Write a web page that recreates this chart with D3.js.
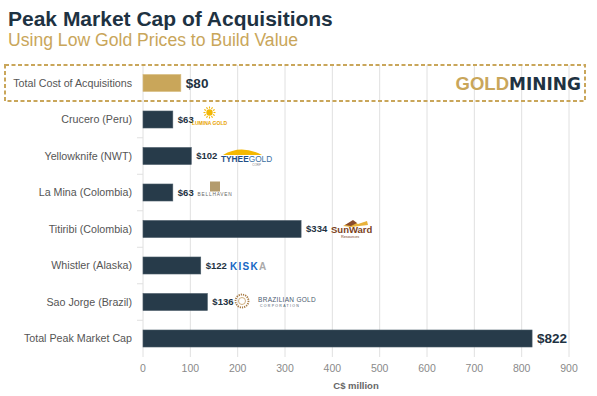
<!DOCTYPE html>
<html><head><meta charset="utf-8">
<script src="https://cdn.jsdelivr.net/npm/d3@7"></script>
<style>body{margin:0;background:#fff;}svg{display:block;font-family:"Liberation Sans",Arial,sans-serif;}</style>
</head><body><svg id="c" width="597" height="396"></svg>
<script>
const categories = ["Total Cost of Acquisitions","Crucero (Peru)","Yellowknife (NWT)","La Mina (Colombia)","Titiribi (Colombia)","Whistler (Alaska)","Sao Jorge (Brazil)","Total Peak Market Cap"];
const values = [80, 63, 102, 63, 334, 122, 136, 822];
const xTicks = [0,100,200,300,400,500,600,700,800,900];
const title = "Peak Market Cap of Acquisitions";
const subtitle = "Using Low Gold Prices to Build Value";
const axisTitle = "C$ million";

const svg = d3.select("#c");
const gold = "#c9a65a", navy = "#273b4a";
const x = d3.scaleLinear().domain([0,900]).range([143,569]);
const y = d3.scaleBand().domain(categories).range([64.75,356.75]).paddingInner(0.534).paddingOuter(0.267);

svg.append("text").attr("x",8).attr("y",26).attr("font-size",21).attr("font-weight","bold").attr("fill","#1e3242").text(title);
svg.append("text").attr("x",8).attr("y",46).attr("font-size",17.6).attr("fill",gold).text(subtitle);

// grid
svg.append("g").selectAll("line").data(xTicks).join("line")
  .attr("x1",d=>x(d)).attr("x2",d=>x(d)).attr("y1",65).attr("y2",357)
  .attr("stroke","#e0e0e0").attr("stroke-width",1);
// category separator ticks
svg.append("g").selectAll("line").data(categories.slice(1)).join("line")
  .attr("x1",137).attr("x2",143).attr("y1",d=>y(d)-y.step()*0.267).attr("y2",d=>y(d)-y.step()*0.267)
  .attr("stroke","#e0e0e0");

// dashed box
svg.append("rect").attr("x",5).attr("y",65).attr("width",580).attr("height",36)
  .attr("fill","none").attr("stroke",gold).attr("stroke-width",2).attr("stroke-dasharray","4,2.5");

// bars
svg.append("g").selectAll("rect").data(categories).join("rect")
  .attr("x",x(0)).attr("y",d=>y(d)).attr("height",y.bandwidth())
  .attr("width",(d,i)=>x(values[i])-x(0))
  .attr("fill",(d,i)=>i===0?gold:navy).attr("stroke",(d,i)=>i===0?"#d8bd7f":"#4a5b68").attr("stroke-width",0.6);

// category labels
svg.append("g").selectAll("text").data(categories).join("text")
  .attr("x",132).attr("y",d=>y(d)+y.bandwidth()/2).attr("dy","0.35em").attr("text-anchor","end")
  .attr("font-size",10.7).attr("fill","#555").text(d=>d);

// value labels
svg.append("g").selectAll("text").data(categories).join("text")
  .attr("x",(d,i)=>x(values[i])+5).attr("y",d=>y(d)+y.bandwidth()/2).attr("dy","0.36em")
  .attr("font-size",(d,i)=>(i===0||i===7)?13.5:9.5).attr("font-weight","bold").attr("fill","#1e3242")
  .text((d,i)=>"$"+values[i]);

// x axis labels
svg.append("g").selectAll("text").data(xTicks).join("text")
  .attr("x",d=>x(d)).attr("y",372).attr("text-anchor","middle").attr("font-size",10.5).attr("fill","#8a8a8a").text(d=>d);
svg.append("text").attr("x",356).attr("y",389).attr("text-anchor","middle").attr("font-size",9.5).attr("font-weight","bold").attr("fill","#666").text(axisTitle);

// GOLDMINING logo
const lg = svg.append("text").attr("x",581).attr("y",90).attr("text-anchor","end").attr("font-size",18.5).attr("font-weight","bold");
lg.append("tspan").attr("fill",gold).text("GOLD");
lg.append("tspan").attr("fill","#1e3242").attr("font-family","'DejaVu Sans',sans-serif").attr("font-size",17).text("MINING");

// company logos (approximations)
const cy = c => y(c)+y.bandwidth()/2;
// Lumina Gold
let g = svg.append("g").attr("transform",`translate(209.5,${cy(categories[1])-7})`);
g.append("circle").attr("r",3.2).attr("fill","#f2b705");
g.selectAll("line").data(d3.range(12)).join("line")
  .attr("x1",d=>4*Math.cos(d*Math.PI/6)).attr("y1",d=>4*Math.sin(d*Math.PI/6))
  .attr("x2",d=>6*Math.cos(d*Math.PI/6)).attr("y2",d=>6*Math.sin(d*Math.PI/6))
  .attr("stroke","#f2b705").attr("stroke-width",1.1);
g.append("text").attr("x",0).attr("y",12.5).attr("text-anchor","middle").attr("font-size",5).attr("fill","#e9a300").attr("font-weight","bold").text("LUMINA GOLD");
// Tyhee Gold
g = svg.append("g").attr("transform",`translate(221,${cy(categories[2])})`);
g.append("path").attr("d","M2,-1 Q20,-12 41,-1 Z").attr("fill","#f5b800");
g.append("text").attr("x",0).attr("y",6).attr("font-size",8.3).attr("font-weight","bold").attr("fill","#1f4f86").text("TYHEE")
  .append("tspan").attr("fill","#3a6f9f").attr("font-weight","normal").text("GOLD");
g.append("text").attr("x",40).attr("y",10).attr("text-anchor","end").attr("font-size",3).attr("fill","#888").text("CORP");
// Bellhaven
g = svg.append("g").attr("transform",`translate(215,${cy(categories[3])})`);
g.append("rect").attr("x",-5).attr("y",-11).attr("width",10).attr("height",10).attr("fill","#b39b6d");
g.append("text").attr("x",0).attr("y",3).attr("text-anchor","middle").attr("font-size",4.8).attr("letter-spacing","0.8").attr("fill","#666").text("BELLHAVEN");
// SunWard
g = svg.append("g").attr("transform",`translate(331,${cy(categories[4])})`);
g.append("path").attr("d","M12,-3 L22,-8 L27,-5 L36,-8 L37,-4 L20,-2 Z").attr("fill","#e8b23a");
g.append("path").attr("d","M14,-4 L22,-9 L26,-6 L20,-3 Z").attr("fill","#8a4b2c");
g.append("text").attr("x",0).attr("y",4).attr("font-size",9.5).attr("fill","#7b3f22").attr("font-weight","bold").text("SunWard");
g.append("text").attr("x",10).attr("y",9).attr("font-size",3.8).attr("fill","#7b3f22").text("Resources");
// Kiska
g = svg.append("g").attr("transform",`translate(230,${cy(categories[5])})`);
g.append("text").attr("x",0).attr("y",4).attr("font-size",10).attr("font-weight","bold").attr("letter-spacing","1.3").attr("fill","#1667c4").text("KISK")
  .append("tspan").attr("fill","#aaa").text("A");
// Brazilian Gold
g = svg.append("g").attr("transform",`translate(242,${cy(categories[6])-1})`);
g.append("circle").attr("r",6.5).attr("fill","none").attr("stroke","#a87b45").attr("stroke-width",1.8).attr("stroke-dasharray","1.2,1");
g.append("circle").attr("r",3.5).attr("fill","none").attr("stroke","#c49a5e").attr("stroke-width",0.8);
g.append("text").attr("x",16).attr("y",1).attr("font-size",6.5).attr("letter-spacing","0.3").attr("fill","#4a5a6e").text("BRAZILIAN GOLD");
g.append("text").attr("x",18).attr("y",6).attr("font-size",3.5).attr("letter-spacing","1.3").attr("fill","#4a5a6e").text("CORPORATION");
</script></body></html>
